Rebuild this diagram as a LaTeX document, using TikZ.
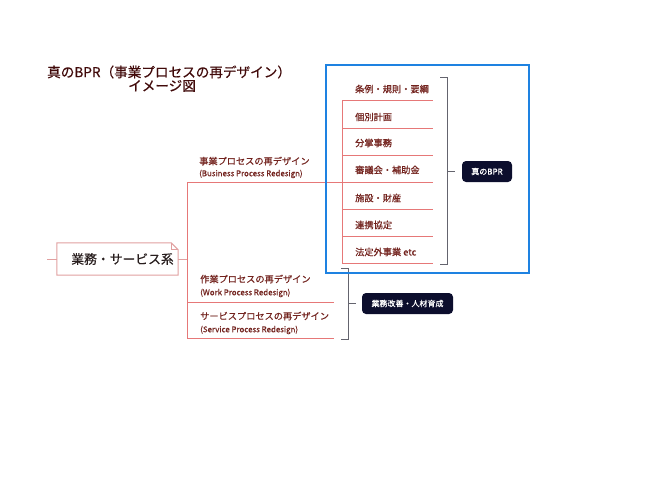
\documentclass[tikz,border=0pt]{standalone}
\usepackage{fontspec}
\setmainfont{Noto Sans CJK JP}
\newfontfamily\medf[FakeBold=0.5]{Noto Sans CJK JP}
\newfontfamily\semif[FakeBold=0.9]{Noto Sans CJK JP}
\definecolor{lred}{RGB}{230,120,120}
\definecolor{boxred}{RGB}{225,160,160}
\definecolor{itemc}{RGB}{115,35,30}
\definecolor{titlec}{RGB}{65,10,10}
\definecolor{navy}{RGB}{12,14,45}
\definecolor{bgray}{RGB}{100,100,110}
\definecolor{bblue}{RGB}{30,130,225}
\definecolor{maintext}{RGB}{40,30,30}
\begin{document}
\begin{tikzpicture}[x=1pt,y=-1pt,
  redline/.style={draw=lred, line width=0.8pt},
  bracket/.style={draw=bgray, line width=1pt},
  item/.style={anchor=west, inner sep=0pt, text=itemc, font=\medf\fontsize{9.2}{11}\selectfont},
  subeng/.style={anchor=west, inner sep=0pt, text=itemc, font=\medf\fontsize{7.9}{9}\selectfont},
  titletext/.style={anchor=west, inner sep=0pt, text=titlec, font=\medf\fontsize{13.6}{15}\selectfont},
  darknode/.style={fill=navy, text=white, rounded corners=4pt, font=\semif\fontsize{8}{10}\selectfont, minimum height=21pt, inner sep=0pt},
  mainbox/.style={draw=boxred, line width=1pt},
  bprframe/.style={draw=bblue, line width=2.5pt}
]
\useasboundingbox (0,0) rectangle (650,487);
\fill[white] (0,0) rectangle (650,487);

% title
\node[titletext] (t1) at (47,72) {真のBPR（事業プロセスの再デザイン）};
\node[titletext] (t2) at (128,86) {イメージ図};

% main node
\node[minimum width=121pt, minimum height=32pt, inner sep=0pt, font=\medf\fontsize{12.8}{14}\selectfont, text=maintext] (main) at (117.5,259) {\hspace*{10pt}業務・サービス系};
\draw[mainbox] (main.south west) -- (main.north west) -- ([xshift=-7pt]main.north east) -- ([yshift=-7pt]main.north east) -- (main.south east) -- cycle;
\draw[mainbox, line width=0.7pt] ([xshift=-7pt]main.north east) -- ([xshift=-7pt,yshift=-7pt]main.north east) -- ([yshift=-7pt]main.north east);

% coordinates
\coordinate (lstub) at (47,259);
\coordinate (j) at (187,259);
\coordinate (bt) at (187,182);
\coordinate (bb) at (187,338);
\coordinate (bw) at (187,302);
\coordinate (bprj) at (342,182);
\coordinate (bprtop) at (342,100);
\coordinate (bprbot) at (342,263);
\coordinate (wend) at (334,302);
\coordinate (send) at (334,338);

% tree lines
\draw[mainbox] (lstub) -- (main.west);
\draw[mainbox] (main.east) -- (j);
\draw[redline] (bt) -- (bb);
\draw[redline] (bt) -- (bprj);
\draw[redline] (bw) -- (wend);
\draw[redline] (bb) -- (send);
\draw[redline] (bprtop) -- (bprbot);
\foreach \yy in {100,128,155,182,209,236,263}{
  \draw[redline] (342,\yy) -- (433,\yy);
}

% branch labels
\node[item] (b1) at (199,161) {事業プロセスの再デザイン};
\node[subeng] (b1e) at (199,174) {(Business Process Redesign)};
\node[item] (w1) at (200,279) {作業プロセスの再デザイン};
\node[subeng] (w1e) at (200,293) {(Work Process Redesign)};
\node[item] (s1) at (200,316) {サービスプロセスの再デザイン};
\node[subeng] (s1e) at (200,330) {(Service Process Redesign)};

% BPR items
\node[item] (i1) at (355,89) {条例・規則・要綱};
\node[item] (i2) at (355,117) {個別計画};
\node[item] (i3) at (355,143) {分掌事務};
\node[item] (i4) at (355,170) {審議会・補助金};
\node[item] (i5) at (355,198) {施設・財産};
\node[item] (i6) at (355,225) {連携協定};
\node[item] (i7) at (355,252) {法定外事業 etc};

% dark nodes
\node[darknode, minimum width=50pt] (bpr) at (487,171.5) {真のBPR};
\node[darknode, minimum width=91pt] (kaizen) at (407.5,303.5) {業務改善・人材育成};

% brackets
\draw[bracket] (440,77) -- (447,77) -- (447,264) -- (440,264);
\draw[bracket, shorten >=7pt] (447,171.5) -- (bpr.west);
\draw[bracket] (341,268) -- (348,268) -- (348,339) -- (341,339);
\draw[bracket, shorten >=6pt] (348,303.5) -- (kaizen.west);

% blue frame
\draw[bprframe] (326,65) rectangle (529,273);
\end{tikzpicture}
\end{document}
